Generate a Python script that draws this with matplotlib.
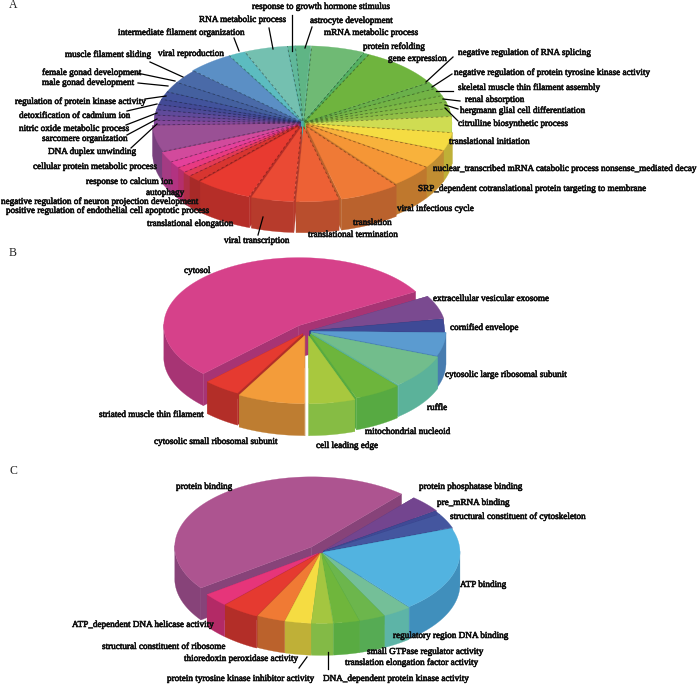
import numpy as np
import matplotlib
matplotlib.use('Agg')
import matplotlib.pyplot as plt
import matplotlib.patheffects as pe
from matplotlib.colors import to_rgb

# Pie A
labels_a = ['mRNA metabolic process', 'protein refolding', 'gene expression',
            'negative regulation of RNA splicing', 'negative regulation of protein tyrosine kinase activity',
            'skeletal muscle thin filament assembly', 'renal absorption',
            'hergmann glial cell differentiation', 'citrulline biosynthetic process',
            'translational initiation', 'nuclear_transcribed mRNA catabolic process nonsense_mediated decay',
            'SRP_dependent cotranslational protein targeting to membrane', 'viral infectious cycle',
            'translation', 'translational termination', 'viral transcription', 'translational elongation',
            'positive regulation of endothelial cell apoptotic process',
            'negative regulation of neuron projection development', 'autophagy',
            'response to calcium ion', 'cellular protein metabolic process', 'DNA duplex unwinding',
            'sarcomere organization', 'nitric oxide metabolic process', 'detoxification of cadmium ion',
            'regulation of protein kinase activity', 'male gonad development', 'female gonad development',
            'muscle filament sliding', 'viral reproduction', 'intermediate filament organization',
            'RNA metabolic process', 'response to growth hormone stimulus', 'astrocyte development']
values_a = [21, 2, 32, 5, 6, 5, 5, 6, 12, 13.8, 13.9, 17.3, 24, 17, 17, 22.6, 5, 3.4, 4, 5, 8,
            20.5, 3.5, 4, 4, 4, 4, 6, 8, 10.6, 18, 6.4, 17, 3, 6]
colors_a = ['#6fba74', '#55b060', '#6fb43e', '#6ab04a', '#72b345', '#7cb845', '#86bb45', '#92bf46',
            '#cfdc52', '#f5dc42', '#f8b23c', '#f59636', '#ef7a36', '#ed6135', '#ea4a34', '#e83a30',
            '#d83530', '#e23a55', '#e83a80', '#e4409a', '#d24a9c', '#9a5095', '#85489a', '#6f4898',
            '#5f4a9a', '#4e4a98', '#434a96', '#42539c', '#44609f', '#4a6aa8', '#5b8fc5', '#5cbcc0',
            '#74c0b0', '#60b89a', '#5fb585']
explode_a = [.03, .02, .02, .02, .02, .02, .02, .02, .02, .03, .03, .03, .05, .05, .05, .05, .05, .05,
             .04, .04, .04, .03, .02, .02, .02, .02, .02, .02, .02, .02, .03, .03, .03, .03, .03]

# Pie B
labels_b = ['cytosol', 'extracellular vesicular exosome', 'cornified envelope',
            'cytosolic large ribosomal subunit', 'ruffle', 'mitochondrial nucleoid',
            'cell leading edge', 'cytosolic small ribosomal subunit', 'striated muscle thin filament']
values_b = [195, 20, 11, 20, 29, 20, 20, 29, 16]
colors_b = ['#d6418a', '#7a4a90', '#3e4a96', '#5b9bd0', '#72bd8c', '#6db53c', '#a8c83e', '#f39c3a', '#e53a30']
explode_b = [.1, .03, .02, .03, .04, .05, .07, .07, .05]

# Pie C
labels_c = ['protein binding', 'protein phosphatase binding', 'pre_mRNA binding',
            'structural constituent of cytoskeleton', 'ATP binding', 'regulatory region DNA binding',
            'small GTPase regulator activity', 'translation elongation factor activity',
            'DNA_dependent protein kinase activity', 'protein tyrosine kinase inhibitor activity',
            'thioredoxin peroxidase activity', 'structural constituent of ribosome',
            'ATP_dependent DNA helicase activity']
values_c = [167, 14, 3, 12, 71, 12, 11, 11, 9, 11, 12, 16, 11]
colors_c = ['#ad5490', '#73458f', '#3f4a96', '#44569f', '#52b3e0', '#74bf98', '#6cb64c', '#6fb63c',
            '#a4c640', '#f5dc42', '#f07a34', '#e53a30', '#e6357a']
explode_c = [.1, .03, .02, .02, .015, .02, .02, .02, .02, .02, .02, .03, .03]

# label anchors in picture pixels (left x, centre y), same order as the labels
pos_a = [(324, 33), (363, 47), (388, 59), (458, 53), (454, 73), (458, 88), (465, 100), (460, 111), (458, 124),
         (449, 142), (433, 169), (418, 189), (397, 209), (353, 223), (308, 235), (224, 241), (147, 224),
         (6, 211), (1, 202), (146, 193), (86, 182), (33, 167), (48, 152), (42, 139), (19, 129), (19, 116),
         (15, 102), (42, 83), (42, 73), (65, 55), (158, 54), (118, 33), (199, 20), (252, 7), (310, 21)]
pos_b = [(184, 271), (433, 299), (450, 328), (445, 375), (427, 408), (365, 432), (316, 446), (154, 442), (99, 415)]
pos_c = [(176, 487), (419, 487), (437, 503), (450, 517), (460, 585), (393, 636), (367, 652), (345, 663),
         (323, 679), (167, 679), (184, 659), (102, 647), (72, 625)]

leaders = [((150, 62), (183, 77)), ((137, 73), (175, 81)), ((138, 83), (168, 86)), ((145, 99), (166, 96)),
           ((127, 111), (157, 104)), ((126, 125), (157, 113)), ((127, 135), (157, 119)), ((131, 148), (157, 124)),
           ((234, 38), (239, 51)), ((269, 28), (273, 49)), ((292, 15), (292, 51)), ((312, 27), (305, 48)),
           ((263, 217), (258, 235)), ((453, 57), (426, 82)), ((452, 74), (432, 87)), ((453, 91), (436, 91)),
           ((460, 101), (443, 99)), ((458, 109), (445, 105)), ((458, 121), (445, 108)),
           ((307, 657), (299, 668)), ((328, 652), (328, 669))]


def darker(c, f=0.6):
    return tuple(v * f for v in to_rgb(c))


def side_colour(c):
    #greens stay bright on the wall and shift a bit to blue, the rest just get darker
    r, g, b = to_rgb(c)
    if g >= r and g >= b:
        return (r * 0.8, g * 0.94, min(1, b * 1.1))
    return (r * 0.78, g * 0.8, b * 0.84)


def draw_pie(ax, values, colors, explode, cx, cy, rx, ry, depth, start, dashed=False):
    #angles run clockwise from the top of the ellipse
    vals = np.array(values, dtype=float)
    edges = start + np.concatenate(([0], np.cumsum(vals / vals.sum() * 360)))
    order = sorted(range(len(vals)), key=lambda i: -np.cos(np.radians((edges[i] + edges[i+1]) / 2)))
    for i in order:
        t0, t1 = edges[i], edges[i+1]
        mid = np.radians((t0 + t1) / 2)
        ox = cx + explode[i] * rx * np.sin(mid)
        oy = cy - explode[i] * ry * np.cos(mid)
        t = np.radians(np.linspace(t0, t1, max(3, int(t1 - t0) * 2)))
        x = ox + rx * np.sin(t)
        y = oy - ry * np.cos(t)
        side = side_colour(colors[i])
        # cut walls
        for ex, ey in ((x[0], y[0]), (x[-1], y[-1])):
            ax.fill([ox, ex, ex, ox], [oy, ey, ey + depth, oy + depth], color=side, lw=0.2)
        # outer wall, only the part facing us
        front = np.cos(t) < 0.02
        if front.sum() > 1:
            fx, fy = x[front], y[front]
            ax.fill(np.r_[fx, fx[::-1]], np.r_[fy, fy[::-1] + depth], color=side, lw=0.2)
        ax.fill(np.r_[ox, x], np.r_[oy, y], color=colors[i], lw=0.2)
        if dashed:
            ax.plot([ox, x[0]], [oy, y[0]], color=darker(colors[i]), lw=0.6, ls=(0, (3, 3)))


fig = plt.figure(figsize=(7, 6.85), dpi=100)
ax = fig.add_axes([0, 0, 1, 1])
ax.set_xlim(0, 700)
ax.set_ylim(685, 0)
ax.axis('off')

draw_pie(ax, values_a, colors_a, explode_a, 303, 123, 146, 75, 31, 3, dashed=True)
draw_pie(ax, values_b, colors_b, explode_b, 307, 331, 135, 68, 32, 225)
draw_pie(ax, values_c, colors_c, explode_c, 321, 552, 137, 70, 32, 234)

for a, b in leaders:
    ax.plot([a[0], b[0]], [a[1], b[1]], color='black', lw=0.9)

stroke = [pe.withStroke(linewidth=0.4, foreground='#111111')]
for labels, pos in ((labels_a, pos_a), (labels_b, pos_b), (labels_c, pos_c)):
    for name, (px, py) in zip(labels, pos):
        ax.text(px, py, name, family='Liberation Serif', fontsize=6.6, ha='left', va='center',
                color='#111111', path_effects=stroke)

for name, py in (('A', 5), ('B', 253), ('C', 471)):
    ax.text(9, py, name, family='Liberation Serif', fontsize=8.5, ha='left', va='center', color='#222222')

fig.savefig('out.png', dpi=100)
